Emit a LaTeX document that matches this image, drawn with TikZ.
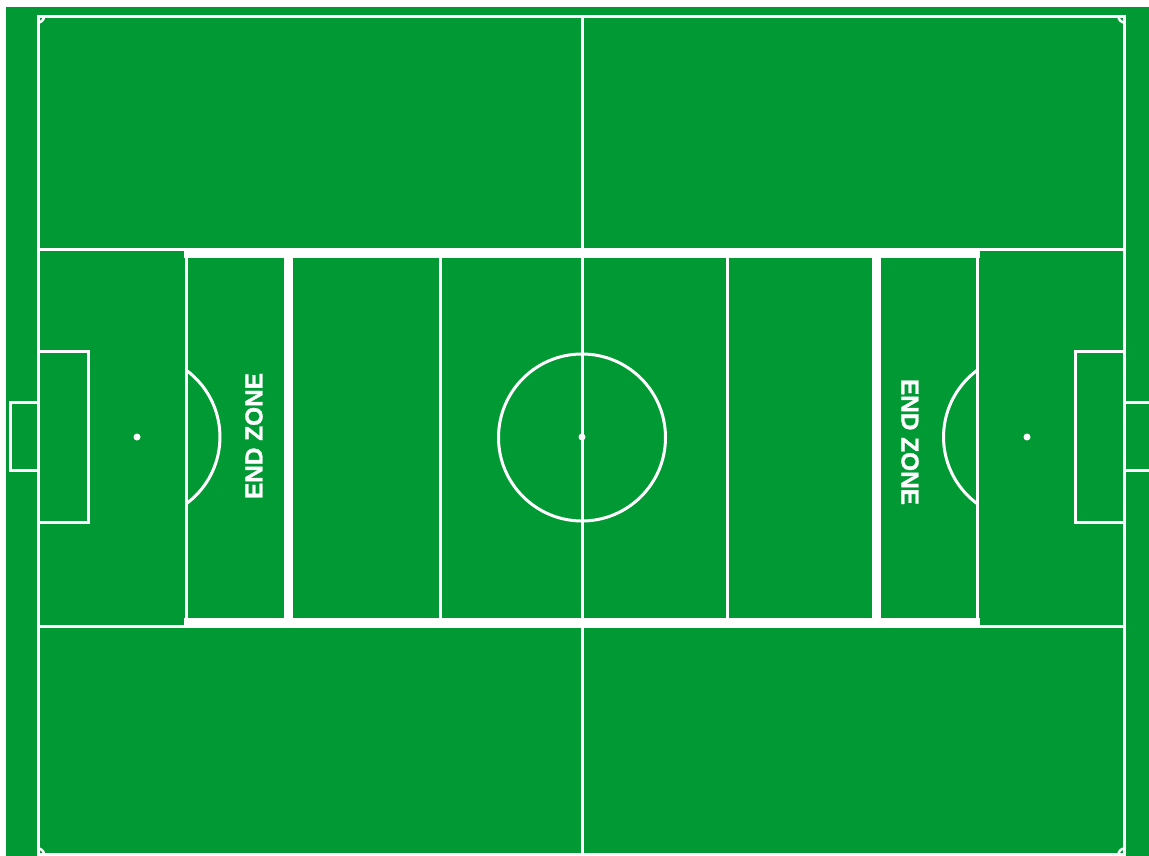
\documentclass[tikz,border=0pt]{standalone}
\usepackage{fontspec}
\setmainfont{Liberation Sans}
\newfontfamily\ezfont[FakeBold=1.2]{Liberation Sans Bold}
\definecolor{pitch}{RGB}{0,153,51}
\begin{document}
\begin{tikzpicture}[x=1pt,y=-1pt,
  thinline/.style={draw=white,line width=3pt},
  thickline/.style={draw=white,line width=9pt},
  cornerarc/.style={draw=white,line width=2.5pt},
  spot/.style={fill=white},
  zonetext/.style={text=white,font=\ezfont\fontsize{24.4}{28}\selectfont,inner sep=0pt}]
\useasboundingbox (0,0) rectangle (1149,856);
\fill[white] (0,0) rectangle (1149,856);
\fill[pitch] (6,7) rectangle (1149,856);
% outer boundary
\draw[thinline] (38,16.5) rectangle (1124.5,854.5);
% corner arcs
\draw[cornerarc] (38,22.5) arc[start angle=90,end angle=0,radius=6];
\draw[cornerarc] (1118.5,16.5) arc[start angle=180,end angle=90,radius=6];
\draw[cornerarc] (44,854.5) arc[start angle=0,end angle=-90,radius=6];
\draw[cornerarc] (1124.5,848.5) arc[start angle=270,end angle=180,radius=6];
% halfway line
\draw[thinline] (582,16.5) -- (582,854.5);
% long horizontal lines
\draw[thinline] (38,249.5) -- (1124.5,249.5);
\draw[thinline] (38,626) -- (1124.5,626);
% penalty area side lines
\draw[thinline] (186,249.5) -- (186,626);
\draw[thinline] (977.5,249.5) -- (977.5,626);
% thick end zone field lines
\draw[thickline] (184,253.5) -- (979.5,253.5);
\draw[thickline] (184,622) -- (979.5,622);
\draw[thickline] (288,253.5) -- (288,622);
\draw[thickline] (876,253.5) -- (876,622);
% thin zone lines
\draw[thinline] (440,253.5) -- (440,622);
\draw[thinline] (727,253.5) -- (727,622);
% goal areas
\draw[thinline] (38,351) -- (88.5,351) -- (88.5,522) -- (38,522);
\draw[thinline] (1124.5,351) -- (1075.5,351) -- (1075.5,522) -- (1124.5,522);
% goals
\draw[thinline] (38,402.5) -- (10.5,402.5) -- (10.5,470.5) -- (38,470.5);
\draw[thinline] (1124.5,402.5) -- (1152,402.5);
\draw[thinline] (1124.5,470.5) -- (1152,470.5);
% penalty spots
\fill[spot] (137,437) circle[radius=3.5];
\fill[spot] (1027,437) circle[radius=3.5];
% penalty arcs
\draw[thinline] (186,370) arc[start angle=-53.8,end angle=53.8,radius=83];
\draw[thinline] (977.5,370) arc[start angle=233.8,end angle=126.2,radius=83];
% centre circle and spot
\draw[thinline] (582,437.5) circle[radius=83.5];
\fill[spot] (582,437) circle[radius=3.5];
% end zone labels
\node[zonetext,rotate=90] (ezleft) at (254,436) {END ZONE};
\node[zonetext,rotate=-90] (ezright) at (910,442) {END ZONE};
\end{tikzpicture}
\end{document}
